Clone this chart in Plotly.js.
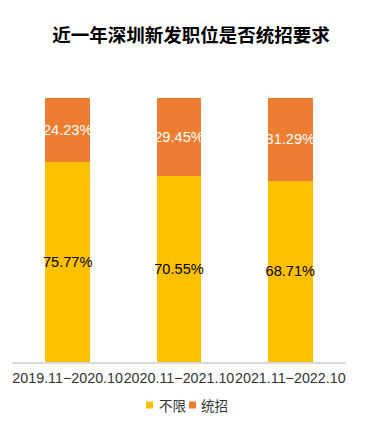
<!DOCTYPE html>
<html><head><meta charset="utf-8">
<script src="https://cdn.plot.ly/plotly-3.0.1.min.js"></script>
<style>html,body{margin:0;padding:0;background:#fff}#c{width:390px;height:432px}</style>
</head><body><div id="c"></div>
<script>
const categories = ["2019.11−2020.10", "2020.11−2021.10", "2021.11−2022.10"];
const seriesNames = ["不限", "统招"];
const unlimited = [75.77, 70.55, 68.71];
const fullTime = [24.23, 29.45, 31.29];
const colors = ['#FFC000', '#ED7D31'];
const fmt = v => v.toFixed(2) + "%";
const F = '"Liberation Sans", Arial, "Noto Sans CJK SC", sans-serif';
const CJK = '"Noto Sans CJK SC", sans-serif';
const traces = [
  {type:'bar', name:seriesNames[0], x:categories, y:unlimited, marker:{color:colors[0]},
   text:unlimited.map(fmt), textposition:'inside', insidetextanchor:'middle', textangle:0,
   constraintext:'none', textfont:{family:F, size:14.6, color:'#000'}, hoverinfo:'skip'},
  {type:'bar', name:seriesNames[1], x:categories, y:fullTime, marker:{color:colors[1]},
   text:fullTime.map(fmt), textposition:'inside', insidetextanchor:'middle', textangle:0,
   constraintext:'none', textfont:{family:F, size:14.6, color:'#fff'}, hoverinfo:'skip'}
];
// legend drawn compactly (plot area: x 12..346, y 98..362)
const legY = -0.163;
const shapes = [
  {type:'rect', xref:'paper', yref:'paper', x0:(146-12)/334, x1:(153-12)/334, y0:legY-3.5/264, y1:legY+3.5/264, fillcolor:colors[0], line:{width:0}},
  {type:'rect', xref:'paper', yref:'paper', x0:(189-12)/334, x1:(196-12)/334, y0:legY-3.5/264, y1:legY+3.5/264, fillcolor:colors[1], line:{width:0}}
];
const annotations = [
  {xref:'paper', yref:'paper', x:(157-12)/334, y:legY, xanchor:'left', yanchor:'middle', showarrow:false,
   text:seriesNames[0], font:{family:CJK, size:13.5, color:'#333'}},
  {xref:'paper', yref:'paper', x:(199-12)/334, y:legY, xanchor:'left', yanchor:'middle', showarrow:false,
   text:seriesNames[1], font:{family:CJK, size:13.5, color:'#333'}}
];
const layout = {
  width:390, height:432, barmode:'stack', bargap:0.6,
  margin:{l:12, r:44, t:98, b:70},
  paper_bgcolor:'#fff', plot_bgcolor:'#fff',
  title:{text:'<b>近一年深圳新发职位是否统招要求</b>', x:0.49, xanchor:'center', y:0.917, yanchor:'middle',
    font:{family:CJK, size:18.5, color:'#000'}},
  xaxis:{showline:true, linecolor:'#d9d9d9', linewidth:1.5, ticks:'', showgrid:false, ticklabelstandoff:2,
    tickangle:0, tickfont:{family:F, size:14.3, color:'#333'}, fixedrange:true},
  yaxis:{range:[0,100], visible:false, showgrid:false, fixedrange:true},
  showlegend:false,
  shapes:shapes, annotations:annotations,
  font:{family:F}
};
Plotly.newPlot('c', traces, layout, {displayModeBar:false, staticPlot:true});
</script></body></html>
